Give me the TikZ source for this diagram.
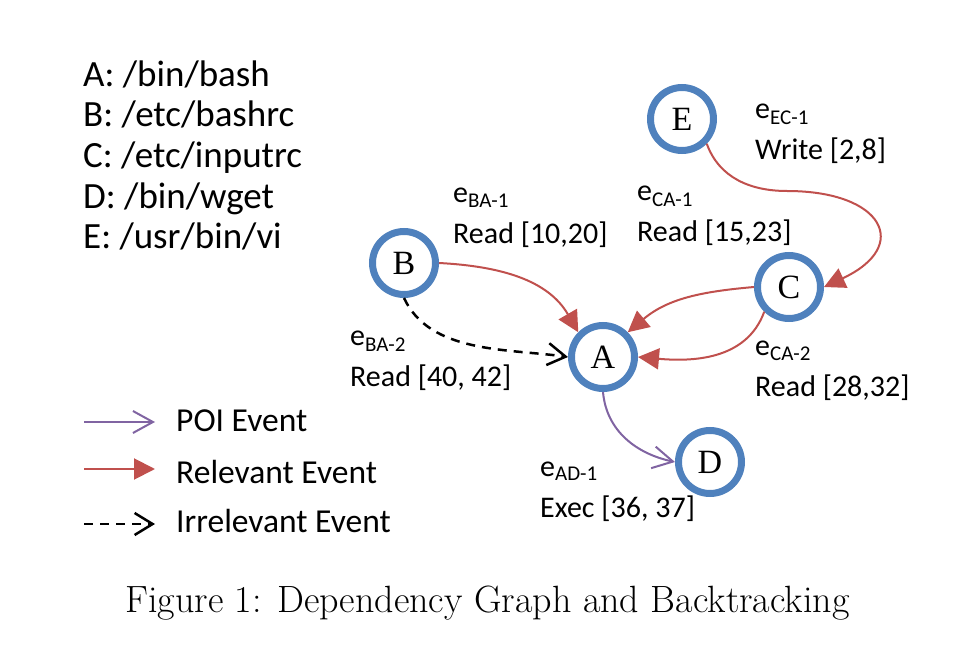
\documentclass[tikz,border=0pt]{standalone}
\usepackage{fontspec}
\newfontfamily\calib{Carlito}
\newfontfamily\timesf{Liberation Serif}
\usetikzlibrary{arrows.meta}
\definecolor{nodeblue}{RGB}{79,129,189}
\definecolor{relred}{RGB}{192,80,77}
\definecolor{poipurple}{RGB}{128,100,162}
\begin{document}
\begin{tikzpicture}[x=1pt,y=1pt,
  proc/.style={circle,draw=nodeblue,line width=7pt,minimum size=63pt,inner sep=0pt,
    font=\timesf\fontsize{34}{34}\selectfont},
  lbl/.style={align=left,inner sep=0pt,font=\calib\fontsize{30}{41}\selectfont},
  relevant/.style={relred,line width=2pt,-{Triangle[length=21pt,width=21pt]}},
  poi/.style={poipurple,line width=2pt,-{Straight Barb[length=20pt,width=22pt]}},
  irrelevant/.style={black,line width=2.5pt,dash pattern=on 9pt off 7pt,
    -{Straight Barb[length=18pt,width=22pt]}}]
\useasboundingbox (0,0) rectangle (975,-652);

\node[lbl,anchor=base west,font=\calib\fontsize{37}{40.7}\selectfont] (files) at (83,-249)
  {A: /bin/bash\\B: /etc/bashrc\\C: /etc/inputrc\\D: /bin/wget\\E: /usr/bin/vi};

\node[proc] (A) at (603,-357) {A};
\node[proc] (B) at (404,-263) {B};
\node[proc] (C) at (789,-287) {C};
\node[proc] (D) at (710,-462) {D};
\node[proc] (E) at (682,-119) {E};

\draw[relevant] (B.east) to[out=-3,in=120] (A.north west);
\draw[irrelevant] (B.south) to[out=-65,in=172,looseness=0.9] (A.west);
\draw[relevant] (C.west) to[out=185,in=40] (A.north east);
\draw[relevant] (C.225) to[out=250,in=-5] (A.east);
\coordinate (ecbend) at (787,-191);
\draw[relevant] (E.-45) to[out=-70,in=180] (ecbend) to[out=0,in=25,looseness=2.4] (C.east);
\draw[poi] (A.south) to[out=-85,in=168] (D.west);

\node[lbl,anchor=base west] (lba1) at (453,-244) {e\textsubscript{BA-1}\\Read [10,20]};
\node[lbl,anchor=base west] (lca1) at (637,-242) {e\textsubscript{CA-1}\\Read [15,23]};
\node[lbl,anchor=base west] (lec1) at (755,-160) {e\textsubscript{EC-1}\\Write [2,8]};
\node[lbl,anchor=base west] (lca2) at (755,-396) {e\textsubscript{CA-2}\\Read [28,32]};
\node[lbl,anchor=base west] (lba2) at (350,-387) {e\textsubscript{BA-2}\\Read [40, 42]};
\node[lbl,anchor=base west] (lad1) at (540,-517) {e\textsubscript{AD-1}\\Exec [36, 37]};

\coordinate (poiA) at (84,-422);
\coordinate (poiB) at (155,-422);
\coordinate (relA) at (84,-469);
\coordinate (relB) at (155,-469);
\coordinate (irrA) at (84,-524);
\coordinate (irrB) at (155,-524);
\draw[poi] (poiA) -- (poiB);
\draw[relevant] (relA) -- (relB);
\draw[irrelevant] (irrA) -- (irrB);
\node[lbl,anchor=base west,font=\calib\fontsize{33.5}{40}\selectfont] (poitxt) at (176,-431) {POI Event};
\node[lbl,anchor=base west,font=\calib\fontsize{33.5}{40}\selectfont] (reltxt) at (176,-483) {Relevant Event};
\node[lbl,anchor=base west,font=\calib\fontsize{33.5}{40}\selectfont] (irrtxt) at (176,-532) {Irrelevant Event};

\node[font=\fontsize{38}{44}\selectfont] (caption) at (487.5,-603)
  {Figure 1: Dependency Graph and Backtracking};
\end{tikzpicture}
\end{document}
